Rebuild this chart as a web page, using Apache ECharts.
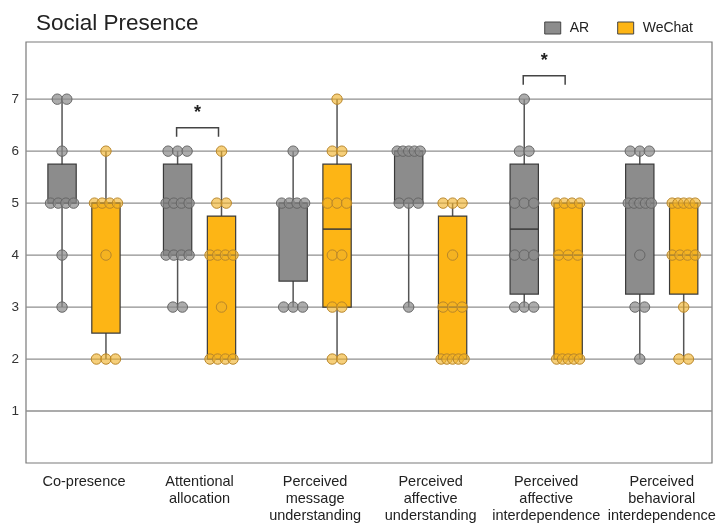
<!DOCTYPE html>
<html><head><meta charset="utf-8">
<script src="https://cdn.jsdelivr.net/npm/echarts@6/dist/echarts.min.js"></script>
<style>html,body{margin:0;padding:0;background:#fff}#c{width:716px;height:525px}</style>
</head><body><div id="c"></div>
<script>
const categories = ['Co-presence','Attentional\nallocation','Perceived\nmessage\nunderstanding','Perceived\naffective\nunderstanding','Perceived\naffective\ninterdependence','Perceived\nbehavioral\ninterdependence'];
const yTicks = [1,2,3,4,5,6,7];
// box stats: [min, Q1, median, Q3, max]
const arBox = [
  [3, 5, 5, 5.75, 7],
  [3, 4, 5, 5.75, 6],
  [3, 3.5, 5, 5, 6],
  [3, 5, 6, 6, 6],
  [3, 3.25, 4.5, 5.75, 7],
  [2, 3.25, 5, 5.75, 6]
];
const wechatBox = [
  [2, 2.5, 5, 5, 6],
  [2, 2, 4, 4.75, 6],
  [2, 3, 4.5, 5.75, 7],
  [2, 2, 3, 4.75, 5],
  [2, 2, 4, 5, 5],
  [2, 3.25, 4, 5, 5]
];
// individual ratings (visible points)
const arPoints = [
  [7,7,6,5,5,5,5,4,3],
  [6,6,6,5,5,5,5,4,4,4,4,3,3],
  [6,5,5,5,5,3,3,3],
  [6,6,6,6,6,5,5,5,3],
  [7,6,6,5,5,5,4,4,4,3,3,3],
  [6,6,6,5,5,5,5,5,4,3,3,2]
];
const wechatPoints = [
  [6,5,5,5,5,4,2,2,2],
  [6,5,5,4,4,4,4,3,2,2,2,2],
  [7,6,6,5,5,5,4,4,3,3,2,2],
  [5,5,5,4,3,3,3,2,2,2,2,2],
  [5,5,5,5,4,4,4,2,2,2,2,2],
  [5,5,5,5,5,4,4,4,4,3,2,2]
];
// significance brackets: [category index, bracket level]
const significance = [[1, 6.45], [4, 7.45]];

const FONT = '"Liberation Sans", Arial, sans-serif';
const AR_COLOR = '#8c8c8c', WC_COLOR = '#fdb515';
const OFF = 0.19, BW = 0.245;

function boxRender(side, fill) {
  return function (params, api) {
    const i = api.value(0);
    const band = api.size([1, 0])[0];
    const w = band * BW;
    const pMin = api.coord([i, api.value(1)]);
    const pQ1 = api.coord([i, api.value(2)]);
    const pMed = api.coord([i, api.value(3)]);
    const pQ3 = api.coord([i, api.value(4)]);
    const pMax = api.coord([i, api.value(5)]);
    const x = pMin[0] + side * band * OFF;
    return { type: 'group', children: [
      { type: 'line', shape: { x1: x, y1: pMin[1], x2: x, y2: pMax[1] }, style: { stroke: '#555', lineWidth: 1.5 } },
      { type: 'rect', shape: { x: x - w / 2, y: pQ3[1], width: w, height: pQ1[1] - pQ3[1] }, style: { fill: fill, stroke: '#3a3a3a', lineWidth: 1.2 } },
      { type: 'line', shape: { x1: x - w / 2, y1: pMed[1], x2: x + w / 2, y2: pMed[1] }, style: { stroke: '#3a3a3a', lineWidth: 1.5 } }
    ]};
  };
}

function pointData(groups) {
  const out = [];
  groups.forEach((vals, i) => {
    const counts = {};
    vals.forEach(v => { counts[v] = (counts[v] || 0) + 1; });
    Object.keys(counts).forEach(k => {
      const n = counts[k];
      for (let j = 0; j < n; j++) out.push([i, +k, j, n]);
    });
  });
  return out;
}

function dotRender(side, fill, stroke) {
  return function (params, api) {
    const i = api.value(0);
    const band = api.size([1, 0])[0];
    const p = api.coord([i, api.value(1)]);
    const j = api.value(2), n = api.value(3);
    const sp = n > 1 ? Math.min(9.5, 23 / (n - 1)) : 0;
    const x = p[0] + side * band * OFF + (j - (n - 1) / 2) * sp;
    return { type: 'circle', shape: { cx: x, cy: p[1], r: 5.2 }, style: { fill: fill, stroke: stroke, lineWidth: 1 } };
  };
}

const chart = echarts.init(document.getElementById('c'), null, { renderer: 'canvas' });
chart.setOption({
  animation: false,
  textStyle: { fontFamily: FONT },
  title: { text: 'Social Presence', left: 31, top: 7, textStyle: { fontSize: 22.5, fontWeight: 'normal', color: '#222', fontFamily: FONT } },
  legend: {
    right: 18, top: 16, itemWidth: 16, itemHeight: 12, itemGap: 28,
    textStyle: { fontSize: 14, color: '#222', fontFamily: FONT, padding: [0, 0, 0, 4] },
    data: [
      { name: 'AR', icon: 'rect', itemStyle: { color: AR_COLOR, borderColor: '#444', borderWidth: 1 } },
      { name: 'WeChat', icon: 'rect', itemStyle: { color: WC_COLOR, borderColor: '#444', borderWidth: 1 } }
    ]
  },
  grid: { left: 26, right: 4, top: 42, bottom: 62, show: true, borderColor: '#7a7a7a', borderWidth: 1.2, backgroundColor: 'transparent', containLabel: false, outerBoundsMode: 'none' },
  xAxis: {
    type: 'value', min: -0.502, max: 5.435,
    axisLine: { show: false }, axisTick: { show: false }, splitLine: { show: false },
    axisLabel: {
      customValues: [0, 1, 2, 3, 4, 5],
      formatter: v => categories[Math.round(v)] || '',
      fontSize: 14.5, lineHeight: 17, color: '#222', margin: 10, fontFamily: FONT, verticalAlign: 'top'
    }
  },
  yAxis: {
    type: 'value', min: 0, max: 8.1, interval: 1,
    axisLine: { show: false }, axisTick: { show: false }, splitLine: { show: false },
    axisLabel: { formatter: v => (yTicks.indexOf(v) >= 0 ? String(v) : ''), fontSize: 13.5, color: '#333', margin: 7, fontFamily: FONT }
  },
  series: [
    {
      name: 'grid', type: 'custom', z: 1, silent: true,
      data: yTicks.map(v => [0, v]),
      encode: { x: 0, y: 1 },
      renderItem: function (params, api) {
        const cs = params.coordSys;
        const y = api.coord([0, api.value(1)])[1];
        return { type: 'line', shape: { x1: cs.x, y1: y, x2: cs.x + cs.width, y2: y }, style: { stroke: '#8f8f8f', lineWidth: 1.3 } };
      }
    },
    {
      name: 'AR', type: 'custom', z: 2, itemStyle: { color: AR_COLOR },
      data: arBox.map((b, i) => [i].concat(b)),
      encode: { x: 0, y: [1, 2, 3, 4, 5] },
      renderItem: boxRender(-1, AR_COLOR)
    },
    {
      name: 'WeChat', type: 'custom', z: 2, itemStyle: { color: WC_COLOR },
      data: wechatBox.map((b, i) => [i].concat(b)),
      encode: { x: 0, y: [1, 2, 3, 4, 5] },
      renderItem: boxRender(1, WC_COLOR)
    },
    {
      name: 'AR points', type: 'custom', z: 3,
      data: pointData(arPoints),
      encode: { x: 0, y: 1 },
      renderItem: dotRender(-1, 'rgba(140,140,140,0.72)', '#666')
    },
    {
      name: 'WeChat points', type: 'custom', z: 3,
      data: pointData(wechatPoints),
      encode: { x: 0, y: 1 },
      renderItem: dotRender(1, 'rgba(240,178,40,0.62)', '#b8862a')
    },
    {
      name: 'sig', type: 'custom', z: 4,
      data: significance,
      encode: { x: 0, y: 1 },
      renderItem: function (params, api) {
        const i = api.value(0);
        const band = api.size([1, 0])[0];
        const p = api.coord([i, api.value(1)]);
        const x1 = p[0] - band * OFF - 1, x2 = p[0] + band * OFF - 3;
        return { type: 'group', children: [
          { type: 'polyline', shape: { points: [[x1, p[1] + 9], [x1, p[1]], [x2, p[1]], [x2, p[1] + 9]] }, style: { stroke: '#444', lineWidth: 1.5, fill: null } },
          { type: 'text', style: { x: (x1 + x2) / 2, y: p[1] - 6, text: '*', fontSize: 18, fontWeight: 'bold', fill: '#222', align: 'center', verticalAlign: 'bottom', fontFamily: FONT } }
        ]};
      }
    }
  ]
});
</script>
</body></html>
